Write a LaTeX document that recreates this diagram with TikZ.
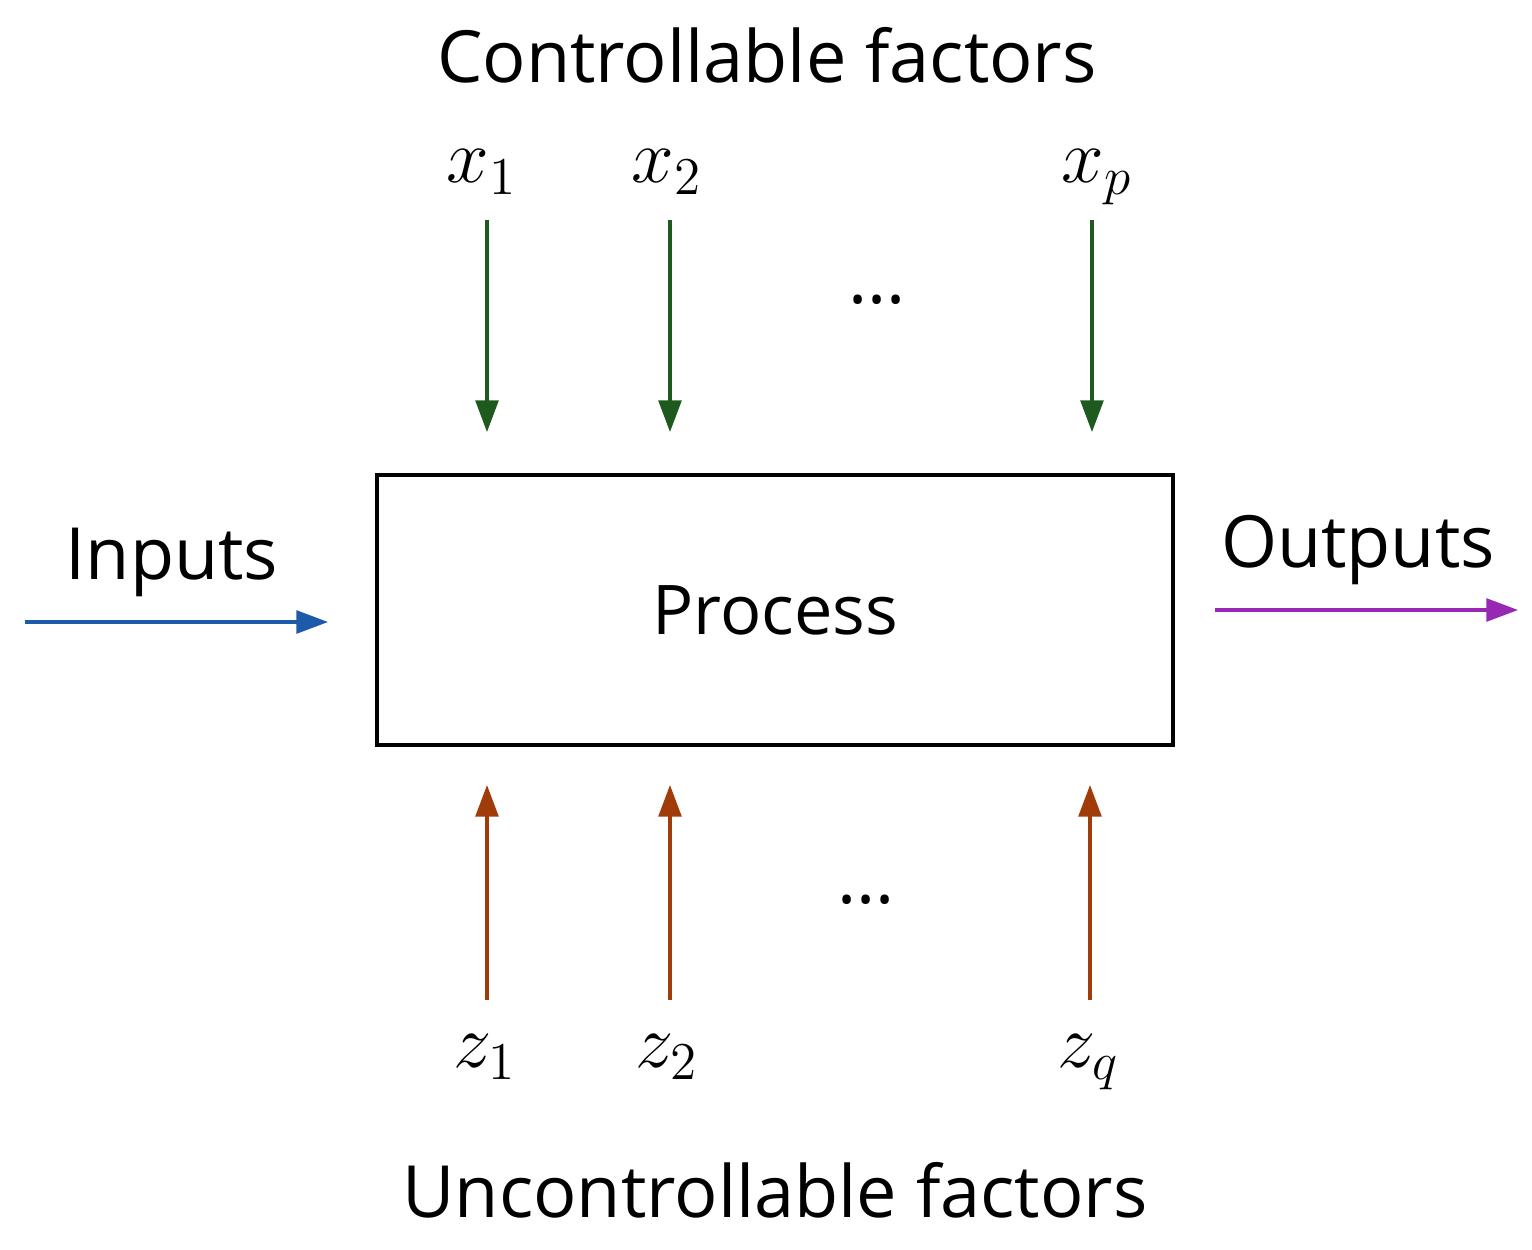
\documentclass[tikz,border=0pt]{standalone}
\usepackage{fontspec}
\setmainfont{Open Sans}
\usetikzlibrary{arrows.meta}
\definecolor{cgreen}{RGB}{30,90,30}
\definecolor{cbrown}{RGB}{160,60,10}
\definecolor{cblue}{RGB}{30,90,170}
\definecolor{cpurple}{RGB}{150,40,180}
\begin{document}
\begin{tikzpicture}[x=0.02cm,y=-0.02cm,
  lbl/.style={inner sep=0pt,font=\fontsize{41}{48}\selectfont},
  mlbl/.style={inner sep=0pt,scale=2.1,font=\fontsize{20}{24}\selectfont},
  arr/.style={line width=1.8pt,-{Triangle[length=18pt,width=13pt]}}]
\useasboundingbox (0,0) rectangle (1532,1249);
\node[draw,line width=2.2pt,minimum width=796*0.02cm,minimum height=270*0.02cm,inner sep=0pt,font=\fontsize{39}{46}\selectfont] (proc) at (775,610) {Process};
\node[lbl] (ctl) at (767,55) {Controllable factors};
\node[lbl] (unc) at (775,1190) {Uncontrollable factors};
\node[lbl] (inp) at (172,562) {Inputs};
\node[lbl] (outp) at (1358,550) {Outputs};
\node[mlbl] (x1) at (482,172) {$x_1$};
\node[mlbl] (x2) at (667,172) {$x_2$};
\node[mlbl] (xp) at (1097,177) {$x_p$};
\node[mlbl] (z1) at (485,1057) {$z_1$};
\node[mlbl] (z2) at (667,1057) {$z_2$};
\node[mlbl] (zq) at (1088,1062) {$z_q$};
\node[lbl] (dt) at (877,300) {...};
\node[lbl] (db) at (866,900) {...};
\coordinate (a1) at (487,220); \coordinate (b1) at (487,432);
\coordinate (a2) at (670,220); \coordinate (b2) at (670,432);
\coordinate (a3) at (1092,220); \coordinate (b3) at (1092,432);
\coordinate (c1) at (487,1000); \coordinate (d1) at (487,785);
\coordinate (c2) at (670,1000); \coordinate (d2) at (670,785);
\coordinate (c3) at (1090,1000); \coordinate (d3) at (1090,785);
\coordinate (ia) at (25,622); \coordinate (ib) at (328,622);
\coordinate (oa) at (1215,610); \coordinate (ob) at (1518,610);
\foreach \i in {1,2,3}{
 \draw[arr,cgreen] (a\i) -- (b\i);
 \draw[arr,cbrown] (c\i) -- (d\i);}
\draw[arr,cblue] (ia) -- (ib);
\draw[arr,cpurple] (oa) -- (ob);
\end{tikzpicture}
\end{document}
